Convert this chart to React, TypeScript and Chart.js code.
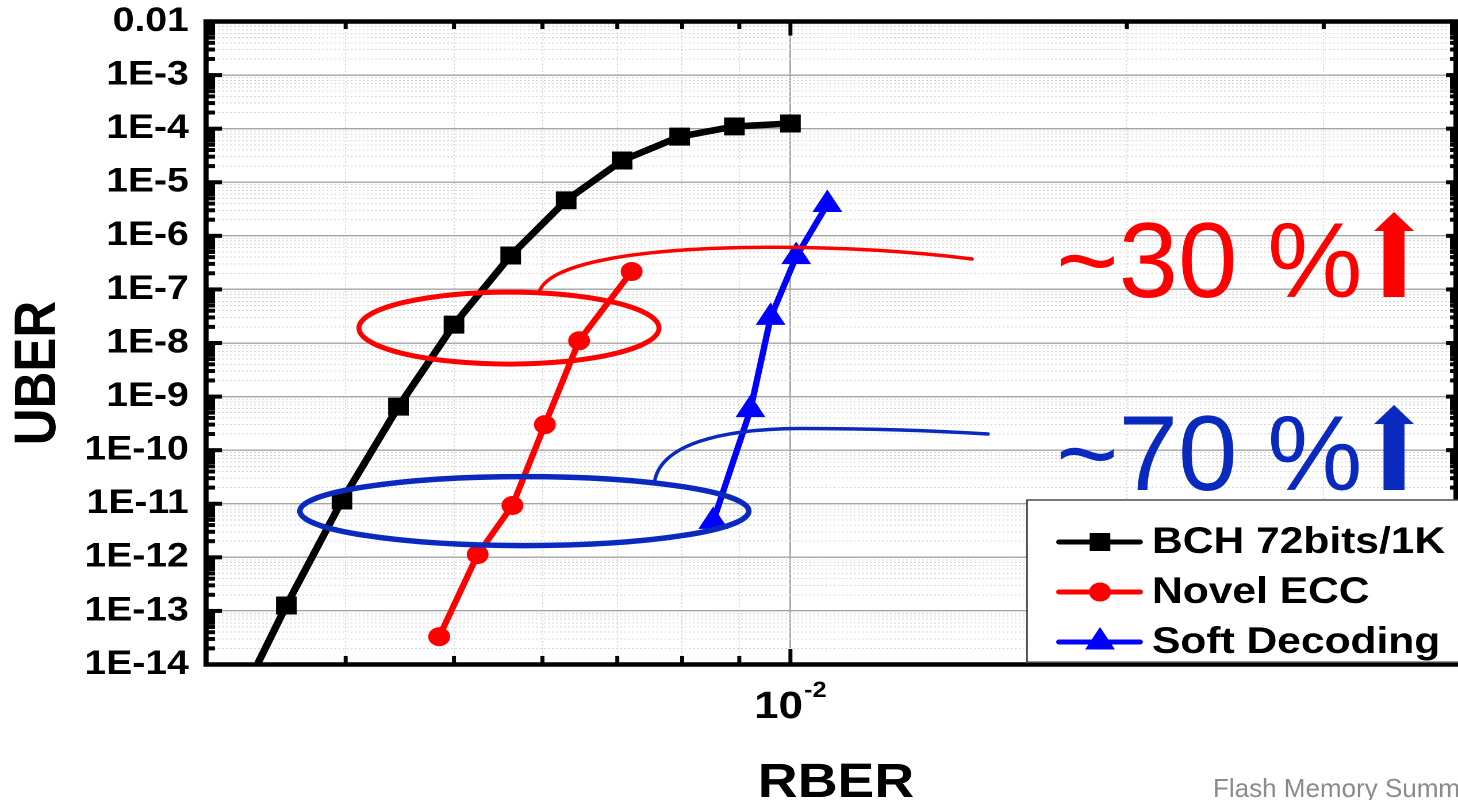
import { useEffect, useRef } from "react";
import { Chart, registerables } from "chart.js";

Chart.register(...registerables);

const FONT = '"Liberation Sans", Arial, Helvetica, sans-serif';

// ---------------- data ----------------
const seriesNames = ["BCH 72bits/1K", "Novel ECC", "Soft Decoding"];

const bchRber = [3.15e-3, 3.54e-3, 3.97e-3, 4.46e-3, 5.0e-3, 5.62e-3, 6.3e-3, 7.07e-3, 7.96e-3, 8.91e-3, 1.0e-2];
const bchUber = [9e-16, 1.26e-13, 1.15e-11, 6.5e-10, 2.2e-8, 4.3e-7, 4.6e-6, 2.55e-5, 7.1e-5, 1.1e-4, 1.25e-4];

const novelRber = [4.85e-3, 5.25e-3, 5.64e-3, 6.03e-3, 6.47e-3, 7.21e-3];
const novelUber = [3.3e-14, 1.13e-12, 9.3e-12, 3.0e-10, 1.1e-8, 2.16e-7];

const softRber = [8.53e-3, 9.21e-3, 9.6e-3, 1.012e-2, 1.079e-2];
const softUber = [4.7e-12, 5.7e-10, 3.0e-8, 4.1e-7, 3.85e-6];

const xRange = [3.0e-3, 3.94e-2];
const yRange = [1e-14, 1e-2];

const xDecades = [1e-3, 1e-2];
const xLabelValue = 1e-2;
const xLabelBase = "10";
const xLabelExp = "-2";

const yDecades = [1e-14, 1e-13, 1e-12, 1e-11, 1e-10, 1e-9, 1e-8, 1e-7, 1e-6, 1e-5, 1e-4, 1e-3, 1e-2];
const yTickLabels = ["1E-14", "1E-13", "1E-12", "1E-11", "1E-10", "1E-9", "1E-8", "1E-7", "1E-6", "1E-5", "1E-4", "1E-3", "0.01"];

const xTitle = "RBER";
const yTitle = "UBER";

// annotation rings (centres in data units) and their texts
const ringRber = [5.6e-3, 5.78e-3];
const ringUber = [1.9e-8, 7.3e-12];
const noteTexts = ["~30 %", "~70 %"];
const noteColors = ["#ff0000", "#0a2abf"];
const footerText = "Flash Memory Summit";

// ---------------- layout ----------------
const PAGE_W = 1458;
const PAGE_H = 800;
const CANVAS_W = Math.round(PAGE_W / 1.15);
const KX = PAGE_W / CANVAS_W; // horizontal stretch of the original figure
const FRAME = { left: 206, right: 1456, top: 21.5, bottom: 664.5 }; // page px

const isDecade = (v: number) => {
  const e = Math.round(Math.log10(v));
  return Math.abs(v / Math.pow(10, e) - 1) < 1e-6;
};

const makeTicks = (decades: number[], lo: number, hi: number) => {
  const out: number[] = [];
  decades.forEach((d) => {
    for (let k = 1; k < 10; k++) {
      const v = Number((d * k).toPrecision(6));
      if (v >= lo * 0.9999 && v <= hi * 1.0001) out.push(v);
    }
  });
  return out;
};

const xTickValues = makeTicks(xDecades, xRange[0], xRange[1]);
const yTickValues = makeTicks(yDecades, yRange[0], yRange[1]);

const yLabelFor = (v: number) => {
  const i = yDecades.findIndex((d) => Math.abs(v / d - 1) < 1e-6);
  return i >= 0 ? yTickLabels[i] : "";
};

function drawMarker(ctx: CanvasRenderingContext2D, style: string, x: number, y: number, r: number) {
  ctx.beginPath();
  if (style === "rect") {
    const s = r * Math.SQRT1_2;
    ctx.rect(x - s, y - s, 2 * s, 2 * s);
  } else if (style === "circle") {
    ctx.arc(x, y, r, 0, Math.PI * 2);
  } else {
    const a = (2 * Math.PI) / 3;
    ctx.moveTo(x, y - r);
    ctx.lineTo(x + r * Math.sin(a), y - r * Math.cos(a));
    ctx.lineTo(x + r * Math.sin(2 * a), y - r * Math.cos(2 * a));
    ctx.closePath();
  }
  ctx.fill();
  ctx.stroke();
}

const decorPlugin = {
  id: "decor",
  afterDraw(chart: any) {
    const ctx: CanvasRenderingContext2D = chart.ctx;
    const a = chart.chartArea;
    const xs = chart.scales.x;
    const ys = chart.scales.y;
    const seg = (x1: number, y1: number, x2: number, y2: number) => {
      ctx.beginPath();
      ctx.moveTo(x1, y1);
      ctx.lineTo(x2, y2);
      ctx.stroke();
    };
    ctx.save();
    ctx.strokeStyle = "#000";
    ctx.lineCap = "butt";

    // inward ticks, top & bottom
    ctx.lineWidth = 4 / KX;
    xs.ticks.forEach((t: any) => {
      const v = t.value;
      if (v <= xs.min * 1.0001 || v >= xs.max * 0.9999) return;
      const px = xs.getPixelForValue(v);
      const big = isDecade(v);
      seg(px, a.bottom, px, a.bottom - (big ? 15.5 : 8.5));
      seg(px, a.top, px, a.top + (big ? 14 : 7.5));
    });
    // inward ticks, left & right
    ctx.lineWidth = 4;
    ys.ticks.forEach((t: any) => {
      const v = t.value;
      if (v <= ys.min * 1.0001 || v >= ys.max * 0.9999) return;
      const py = ys.getPixelForValue(v);
      const big = isDecade(v);
      seg(a.left, py, a.left + (big ? 16 : 9) / KX, py);
      seg(a.right, py, a.right - (big ? 10 : 6) / KX, py);
    });
    // frame
    ctx.lineWidth = 4.5;
    ctx.strokeRect(a.left, a.top, a.right - a.left, a.bottom - a.top);

    // axis titles and x tick label (stretched like the figure)
    ctx.fillStyle = "#000";
    ctx.textBaseline = "alphabetic";
    ctx.save();
    ctx.translate(55 / KX, 373);
    ctx.rotate(-Math.PI / 2);
    ctx.font = `bold 51px ${FONT}`;
    ctx.textAlign = "center";
    ctx.fillText(yTitle, 0, 0);
    ctx.restore();

    ctx.font = `bold 48px ${FONT}`;
    ctx.textAlign = "center";
    ctx.fillText(xTitle, 836 / KX, 797);

    const tx = xs.getPixelForValue(xLabelValue);
    ctx.textAlign = "left";
    ctx.font = `bold 38px ${FONT}`;
    const wBase = ctx.measureText(xLabelBase).width;
    ctx.font = `bold 22px ${FONT}`;
    const wExp = ctx.measureText(xLabelExp).width;
    const x0 = tx - (wBase + wExp + 1) / 2;
    ctx.font = `bold 38px ${FONT}`;
    ctx.fillText(xLabelBase, x0, 718);
    ctx.font = `bold 22px ${FONT}`;
    ctx.fillText(xLabelExp, x0 + wBase + 1, 697);

    // legend box
    const lx = 1027 / KX;
    const ly = 500;
    const lb = a.bottom - 2.3;
    ctx.fillStyle = "#ffffff";
    ctx.fillRect(lx, ly, CANVAS_W + 10 - lx, lb - ly);
    ctx.strokeStyle = "#4a4a4a";
    ctx.lineWidth = 1.5;
    ctx.strokeRect(lx, ly, CANVAS_W + 10 - lx, lb - ly);
    const rowY = [542, 592, 642];
    chart.data.datasets.forEach((ds: any, i: number) => {
      const yc = rowY[i];
      ctx.strokeStyle = ds.borderColor;
      ctx.fillStyle = ds.backgroundColor;
      ctx.lineWidth = 5;
      ctx.lineCap = "round";
      seg(1059 / KX, yc, 1140 / KX, yc);
      ctx.lineWidth = 1;
      drawMarker(ctx, ds.pointStyle, 1100 / KX, yc, ds.pointRadius);
      ctx.fillStyle = "#000";
      ctx.font = `bold 37px ${FONT}`;
      ctx.textAlign = "left";
      ctx.fillText(ds.label, 1152 / KX, yc + 11);
    });

    // annotations, not stretched: draw in page px
    ctx.save();
    ctx.scale(1 / KX, 1);
    ctx.lineCap = "round";
    const ringR = [
      [150, 36],
      [224.5, 34.5],
    ];
    const ringW = [5, 5.5];
    const startDx = [30, 130];
    const callouts = [
      [[8, -30], [100, -45], [230, -45.5], [340, -45.5], [972, 259]],
      [[5, -38], [65, -54], [145, -54.5], [245, -54.5], [988, 434]],
    ];
    ringRber.forEach((vx, i) => {
      const cx = xs.getPixelForValue(vx) * KX;
      const cy = ys.getPixelForValue(ringUber[i]);
      const [rx, ry] = ringR[i];
      ctx.strokeStyle = noteColors[i];
      ctx.lineWidth = ringW[i];
      ctx.beginPath();
      ctx.ellipse(cx, cy, rx, ry, 0, 0, Math.PI * 2);
      ctx.stroke();
      // callout curve from the top of the ring
      const sx = cx + startDx[i];
      const cosT = startDx[i] / rx;
      const sy = cy - ry * Math.sqrt(1 - cosT * cosT);
      const c = callouts[i];
      ctx.lineWidth = 3.5;
      ctx.beginPath();
      ctx.moveTo(sx, sy);
      ctx.bezierCurveTo(sx + c[0][0], sy + c[0][1], sx + c[1][0], sy + c[1][1], sx + c[2][0], sy + c[2][1]);
      ctx.quadraticCurveTo(sx + c[3][0], sy + c[3][1], c[4][0], c[4][1]);
      ctx.stroke();
    });

    const noteBase = [297, 490];
    noteTexts.forEach((t, i) => {
      ctx.fillStyle = noteColors[i];
      ctx.font = `107px ${FONT}`;
      ctx.textAlign = "left";
      ctx.textBaseline = "alphabetic";
      ctx.fillText(t, 1056, noteBase[i]);
      // thick up arrow
      const bot = noteBase[i];
      const tip = bot - 85;
      const hb = tip + 19;
      const ax = 1394;
      ctx.beginPath();
      ctx.moveTo(ax, tip);
      ctx.lineTo(ax + 20, hb);
      ctx.lineTo(ax + 10.5, hb);
      ctx.lineTo(ax + 10.5, bot);
      ctx.lineTo(ax - 10.5, bot);
      ctx.lineTo(ax - 10.5, hb);
      ctx.lineTo(ax - 20, hb);
      ctx.closePath();
      ctx.fill();
    });

    ctx.fillStyle = "#8a8a8a";
    ctx.font = `26px ${FONT}`;
    ctx.fillText(footerText, 1213, 797);
    ctx.restore();

    ctx.restore();
  },
};

export default function App() {
  const ref = useRef<HTMLCanvasElement | null>(null);

  useEffect(() => {
    const canvas = ref.current;
    if (!canvas) return;
    Chart.defaults.font.family = FONT;

    const isMajorCtx = (c: any) => !!(c.tick && isDecade(c.tick.value));
    const gridOpts = {
      drawTicks: false,
      color: (c: any) => (isMajorCtx(c) ? "#a4a4a4" : "#d4d4d4"),
      lineWidth: (c: any) => (isMajorCtx(c) ? 1.4 : 1),
    };
    const borderOpts = {
      display: false,
      dash: (c: any) => (isMajorCtx(c) ? [] : [1.5, 2]),
    };
    const noPad = (s: any) => {
      s.paddingTop = 0;
      s.paddingBottom = 0;
      s.paddingLeft = 0;
      s.paddingRight = 0;
    };

    const chart = new Chart(canvas, {
      type: "line",
      data: {
        datasets: [
          {
            label: seriesNames[0],
            data: bchRber.map((x, i) => ({ x, y: bchUber[i] })),
            borderColor: "#000000",
            backgroundColor: "#000000",
            pointBackgroundColor: "#000000",
            pointBorderColor: "#000000",
            borderWidth: 6.5,
            pointStyle: "rect",
            pointRadius: 12,
            pointBorderWidth: 1,
            clip: 0,
          },
          {
            label: seriesNames[1],
            data: novelRber.map((x, i) => ({ x, y: novelUber[i] })),
            borderColor: "#ff0000",
            backgroundColor: "#ff0000",
            pointBackgroundColor: "#ff0000",
            pointBorderColor: "#ff0000",
            borderWidth: 5.5,
            pointStyle: "circle",
            pointRadius: 9,
            pointBorderWidth: 1,
            clip: 0,
          },
          {
            label: seriesNames[2],
            data: softRber.map((x, i) => ({ x, y: softUber[i] })),
            borderColor: "#0000ff",
            backgroundColor: "#0000ff",
            pointBackgroundColor: "#0000ff",
            pointBorderColor: "#0000ff",
            borderWidth: 5.5,
            pointStyle: "triangle",
            pointRadius: 14,
            pointBorderWidth: 1,
            clip: 0,
          },
        ],
      },
      options: {
        responsive: false,
        animation: false,
        devicePixelRatio: 2,
        layout: {
          autoPadding: false,
          padding: {
            left: 0,
            right: CANVAS_W - FRAME.right / KX,
            top: FRAME.top,
            bottom: 0,
          },
        },
        plugins: {
          legend: { display: false },
          tooltip: { enabled: false },
        },
        scales: {
          x: {
            type: "logarithmic",
            min: xRange[0],
            max: xRange[1],
            ticks: { display: false, autoSkip: false },
            grid: gridOpts as any,
            border: borderOpts as any,
            afterBuildTicks: (s: any) => {
              s.ticks = xTickValues.map((v) => ({ value: v, major: isDecade(v) }));
            },
            afterFit: (s: any) => {
              s.height = PAGE_H - FRAME.bottom;
              noPad(s);
            },
          },
          y: {
            type: "logarithmic",
            min: yRange[0],
            max: yRange[1],
            ticks: {
              autoSkip: false,
              padding: 15,
              color: "#000",
              font: { size: 34, weight: "bold", family: FONT },
              callback: (v: any) => yLabelFor(Number(v)),
            },
            grid: gridOpts as any,
            border: borderOpts as any,
            afterBuildTicks: (s: any) => {
              s.ticks = yTickValues.map((v) => ({ value: v, major: isDecade(v) }));
            },
            afterFit: (s: any) => {
              s.width = FRAME.left / KX;
              noPad(s);
            },
          },
        },
      },
      plugins: [decorPlugin],
    } as any);

    return () => chart.destroy();
  }, []);

  return (
    <div
      style={{
        position: "fixed",
        left: 0,
        top: 0,
        width: PAGE_W,
        height: PAGE_H,
        overflow: "hidden",
        background: "#ffffff",
      }}
    >
      <canvas
        ref={ref}
        width={CANVAS_W}
        height={PAGE_H}
        style={{ width: `${PAGE_W}px`, height: `${PAGE_H}px`, display: "block" }}
      />
    </div>
  );
}
